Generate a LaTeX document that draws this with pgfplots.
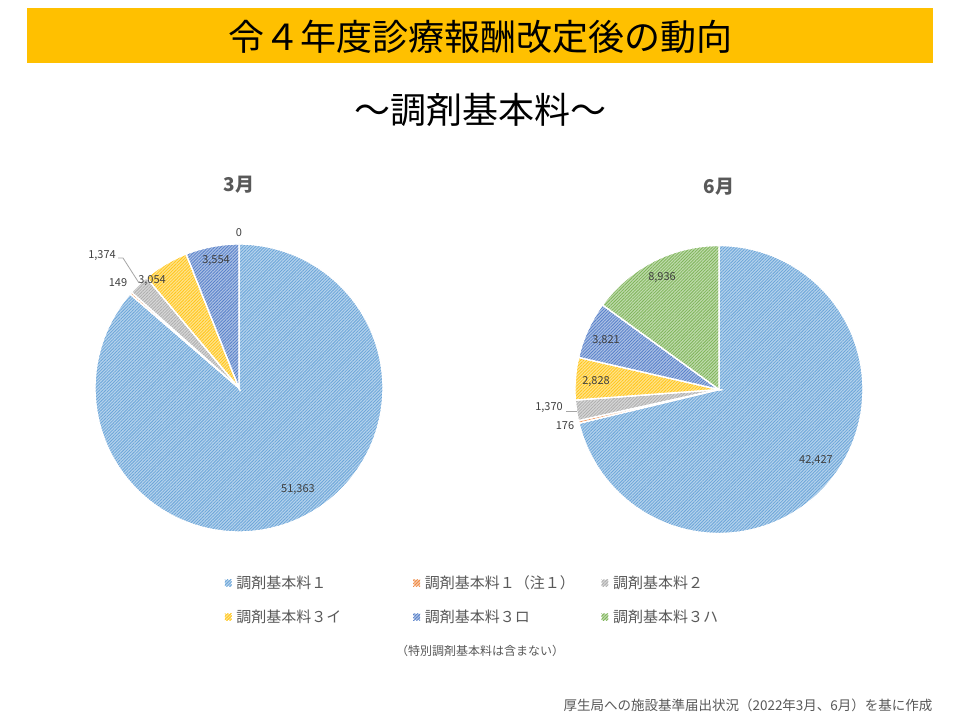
\documentclass[border=0pt]{standalone}
\usepackage{fontspec}
\setmainfont{Noto Sans CJK JP}
\usepackage{pgfplots}
\pgfplotsset{compat=1.18}
\usetikzlibrary{patterns.meta}

\definecolor{cA}{HTML}{5B9BD5}
\definecolor{cB}{HTML}{ED7D31}
\definecolor{cC}{HTML}{A5A5A5}
\definecolor{cD}{HTML}{FFC000}
\definecolor{cE}{HTML}{4472C4}
\definecolor{cF}{HTML}{70AD47}
\definecolor{bar}{HTML}{FFC000}
\definecolor{lbl}{HTML}{404040}
\definecolor{ttl}{HTML}{595959}

\pgfplotsset{
  slice/.style={draw=white, line width=1.3pt, preaction={fill=#1!45!white},
    pattern={Lines[angle=45,distance=2.2pt,line width=0.8pt]}, pattern color=#1!90!white,
    samples=120, no markers},
  pie/.style={scale only axis, width=300pt, height=300pt,
    xmin=-150, xmax=150, ymin=-150, ymax=150, hide axis, clip=false, anchor=center},
}

% #1 running sum before the slice, #2 value, #3 total, #4 colour
\newcommand\slice[4]{%
  \edef\aS{\fpeval{90-360*(#1)/(#3)}}%
  \edef\aE{\fpeval{90-360*(#1+#2)/(#3)}}%
  \edef\doslice{\noexpand\addplot[slice=#4, domain=\aE:\aS]
    ({144*cos(x)},{144*sin(x)}) -- (axis cs:0,0) -- cycle;}%
  \doslice}

\newcommand\lbl[3]{\node[font=\fontsize{11}{13}\selectfont, text=lbl] at (#1,720-#2) {#3};}

\begin{document}
\begin{tikzpicture}[x=1pt,y=1pt]
\fill[white] (0,0) rectangle (960,720);
\fill[bar] (27,720-8) rectangle (933,720-63);
\node[font=\fontsize{36}{40}\selectfont] at (480,720-37) {令４年度診療報酬改定後の動向};
\node[font=\fontsize{36}{40}\selectfont] at (480,720-110) {～調剤基本料～};

\node[font=\fontsize{19}{22}\selectfont\bfseries, text=ttl] at (239,720-185) {3月};
\node[font=\fontsize{19}{22}\selectfont\bfseries, text=ttl] at (719,720-187) {6月};

% 3月: 51363, 149, 1374, 3054, 3554, 0
\begin{axis}[pie, at={(239pt,332pt)}]
\slice{0}{51363}{59494}{cA}
\slice{51363}{149}{59494}{cB}
\slice{51512}{1374}{59494}{cC}
\slice{52886}{3054}{59494}{cD}
\slice{55940}{3554}{59494}{cE}
\end{axis}

% 6月: 42427, 176, 1370, 2828, 3821, 8936
\begin{axis}[pie, at={(719pt,330.5pt)},
  legend columns=3,
  legend image code/.code={\path[#1, draw=none] (0pt,-3.5pt) rectangle (7pt,3.5pt);},
  legend style={at={(axis cs:-495,-184)}, anchor=north west, draw=none, fill=none,
    font=\fontsize{15}{18}\selectfont, text=ttl, row sep=16pt, inner sep=0pt,
    /tikz/every odd column/.append style={column sep=2pt}}]
\slice{0}{42427}{59558}{cA}
\addlegendentry{\makebox[174pt][l]{調剤基本料１}}
\slice{42427}{176}{59558}{cB}
\addlegendentry{\makebox[174pt][l]{調剤基本料１（注１）}}
\slice{42603}{1370}{59558}{cC}
\addlegendentry{\makebox[130pt][l]{調剤基本料２}}
\slice{43973}{2828}{59558}{cD}
\addlegendentry{\makebox[174pt][l]{調剤基本料３イ}}
\slice{46801}{3821}{59558}{cE}
\addlegendentry{\makebox[174pt][l]{調剤基本料３ロ}}
\slice{50622}{8936}{59558}{cF}
\addlegendentry{\makebox[130pt][l]{調剤基本料３ハ}}
\end{axis}

% data labels
\lbl{239}{233}{0}
\lbl{216}{261}{3,554}
\lbl{152}{281}{3,054}
\lbl{102}{256}{1,374}
\lbl{118}{283}{149}
\lbl{298}{490}{51,363}
\draw[cC, line width=0.8pt] (118,720-258) -- (123,720-258) -- (139,720-283);

\lbl{662}{278}{8,936}
\lbl{606}{341}{3,821}
\lbl{596}{382}{2,828}
\lbl{549}{408}{1,370}
\lbl{565}{426}{176}
\lbl{816}{461}{42,427}
\draw[cC, line width=0.8pt] (566,720-411) -- (577,720-411);

\node[font=\fontsize{12}{14}\selectfont, text=ttl] at (480,720-651) {（特別調剤基本料は含まない）};
\node[font=\fontsize{13.5}{16}\selectfont, text=ttl, anchor=east] at (936,720-705) {厚生局への施設基準届出状況（2022年3月、6月）を基に作成};
\end{tikzpicture}
\end{document}
